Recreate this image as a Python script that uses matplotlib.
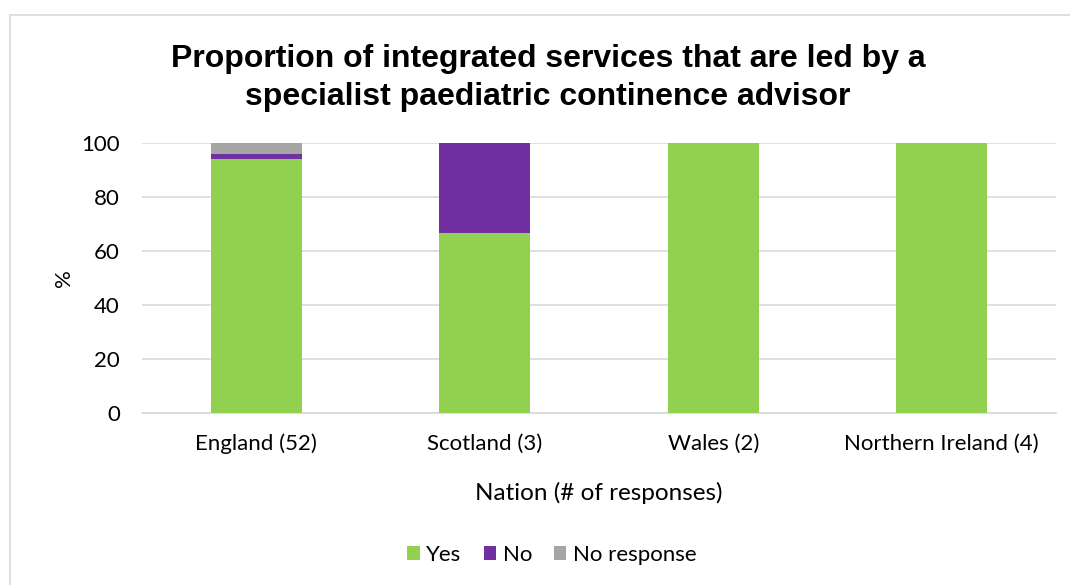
import matplotlib
matplotlib.use("Agg")
import matplotlib.pyplot as plt
from matplotlib.patches import Rectangle
import numpy as np

categories = ["England (52)", "Scotland (3)", "Wales (2)", "Northern Ireland (4)"]
yes = [94.2, 66.7, 100.0, 100.0]
no = [1.9, 33.3, 0.0, 0.0]
no_response = [3.8, 0.0, 0.0, 0.0]
yticks = [0, 20, 40, 60, 80, 100]

font = "Lato"
fs = 16
fig = plt.figure(figsize=(10.7, 5.85), dpi=100)
fig.patches.append(Rectangle((10/1070, -0.05), 1.1, 1 - 15/585 + 0.05, transform=fig.transFigure,
                             fill=False, edgecolor="#D9D9D9", linewidth=1.2))
ax = fig.add_axes([142/1070, 1 - 413/585, (1056 - 142)/1070, (413 - 143)/585])

x = np.arange(len(categories))
w = 0.40
ax.bar(x, yes, w, color="#92D050", label="Yes", zorder=3)
ax.bar(x, no, w, bottom=yes, color="#7030A0", label="No", zorder=3)
ax.bar(x, no_response, w, bottom=np.array(yes) + np.array(no), color="#A5A5A5", label="No response", zorder=3)

ax.set_xlim(-0.5, 3.5)
ax.set_ylim(0, 100)
ax.set_yticks(yticks)
ax.yaxis.grid(True, color="#D9D9D9", linewidth=1.2, zorder=0)
for s in ["top", "right", "left"]:
    ax.spines[s].set_visible(False)
ax.spines["bottom"].set_color("#D9D9D9")
ax.spines["bottom"].set_linewidth(1.2)
ax.tick_params(length=0, labelsize=fs)
ax.set_xticks(x)
ax.set_xticklabels(categories, fontfamily=font)
for lab in ax.get_yticklabels():
    lab.set_fontfamily(font)
ax.tick_params(axis="x", pad=15)
ax.tick_params(axis="y", pad=16)

ax.set_ylabel("%", fontsize=fs, fontfamily=font, labelpad=5)
ax.set_xlabel("Nation (# of responses)", fontsize=17.5, fontfamily=font, labelpad=20)

fig.text(548/1070, 1 - 78/585, "Proportion of integrated services that are led by a\nspecialist paediatric continence advisor",
         ha="center", va="center", fontsize=23, fontweight="bold", fontfamily="Liberation Sans", linespacing=1.32)

fig.legend(loc="center", bbox_to_anchor=(552/1070, 1 - 555/585), ncol=3, frameon=False,
           prop={"family": font, "size": fs}, handlelength=0.55, handleheight=0.55,
           handletextpad=0.3, columnspacing=1.0)

fig.savefig("out.png", dpi=100)
